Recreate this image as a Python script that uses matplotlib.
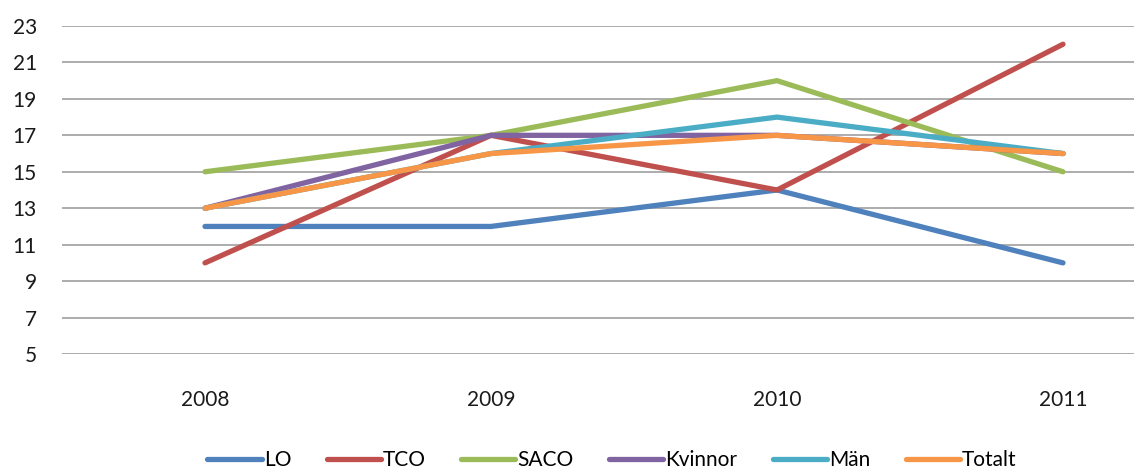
import matplotlib
matplotlib.use("Agg")
import matplotlib.pyplot as plt

plt.rcParams['font.family'] = ['Lato', 'DejaVu Sans']

years = ["2008", "2009", "2010", "2011"]
lo = [12, 12, 14, 10]
tco = [10, 17, 14, 22]
saco = [15, 17, 20, 15]
kvinnor = [13, 17, 17, 16]
man = [13, 16, 18, 16]
totalt = [13, 16, 17, 16]
yticks = [5, 7, 9, 11, 13, 15, 17, 19, 21, 23]

series = [
    ("LO", lo, "#4F81BD"),
    ("TCO", tco, "#C0504D"),
    ("SACO", saco, "#9BBB59"),
    ("Kvinnor", kvinnor, "#8064A2"),
    ("Män", man, "#4BACC6"),
    ("Totalt", totalt, "#F79646"),
]

W, H = 1134, 475
fig = plt.figure(figsize=(W / 100, H / 100), dpi=100)
left, right, top, bottom = 62, 1134, 26, 354
ax = fig.add_axes([left / W, 1 - bottom / H, (right - left) / W, (bottom - top) / H])

x = list(range(len(years)))
for name, vals, col in series:
    ax.plot(x, vals, color=col, lw=3.8, label=name, solid_capstyle='round',
            solid_joinstyle='miter', zorder=3)

ax.set_ylim(5, 23)
ax.set_yticks(yticks)
ax.set_yticklabels([str(v) for v in yticks])
ax.set_xticks(x)
ax.set_xticklabels(years)
ax.set_xlim(-0.5, -0.5 + (right - left) / 286)

ax.grid(axis='y', color='#a6a6a6', lw=1.3, zorder=1)
for s in ax.spines.values():
    s.set_visible(False)
ax.tick_params(axis='both', length=0, labelsize=15, colors='#1a1a1a')
ax.tick_params(axis='y', pad=18)
ax.tick_params(axis='x', pad=26)

fig.legend(loc='center', bbox_to_anchor=(612 / W, 0.032), ncol=6, frameon=False,
           fontsize=15, handlelength=2.6, handletextpad=0.1, columnspacing=1.7,
           borderpad=0.1)

fig.savefig("out.png", dpi=100)
